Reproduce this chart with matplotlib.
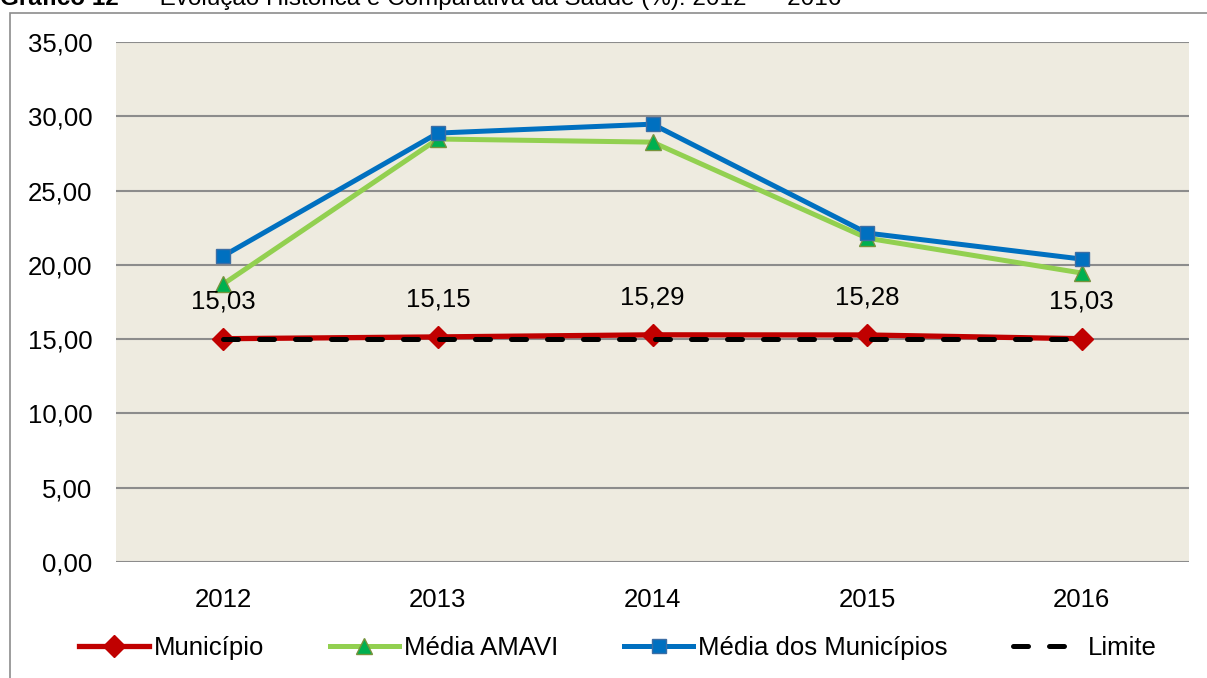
import matplotlib.pyplot as plt
from matplotlib.patches import Rectangle
from matplotlib.lines import Line2D

plt.rcParams['font.family'] = ['Liberation Sans', 'DejaVu Sans']

# Data
years = ["2012", "2013", "2014", "2015", "2016"]
municipio = [15.03, 15.15, 15.29, 15.28, 15.03]
media_amavi = [18.71, 28.47, 28.26, 21.80, 19.45]
media_municipios = [20.60, 28.87, 29.47, 22.14, 20.39]
limite = [15.00, 15.00, 15.00, 15.00, 15.00]
yticks = [0, 5, 10, 15, 20, 25, 30, 35]

W, H = 1207, 678
FS = 18.5
fig = plt.figure(figsize=(W / 100, H / 100), dpi=100)
fig.patch.set_facecolor('white')

# outer chart frame (partly outside the picture)
fig.patches.append(Rectangle((9.5 / W, -0.1), 1.2, (H - 12.5) / H + 0.1,
                             transform=fig.transFigure, fill=False,
                             edgecolor='#8c8c8c', linewidth=1.2))

# title, cut off at the top like in the source
t1 = fig.text(0, 1 - 5 / H, "Gráfico 12", fontsize=17.5, fontweight='bold',
              va='baseline', ha='left')
fig.canvas.draw()
bb = t1.get_window_extent()
fig.text(bb.x1 / W, 1 - 5 / H, "  –  Evolução Histórica e Comparativa da Saúde (%): 2012  –  2016",
         fontsize=17.5, va='baseline', ha='left')

ax = fig.add_axes([116 / W, 1 - 562 / H, (1189 - 116) / W, (562 - 42) / H])
ax.set_facecolor('#eeebe0')
x = list(range(len(years)))

dash = (0, (3, 4.2))
ax.plot(x, media_amavi, color='#92d050', linewidth=3.6, marker='^', markersize=11,
        markerfacecolor='#00b050', markeredgecolor='#77933c', markeredgewidth=1, zorder=3)
ax.plot(x, media_municipios, color='#0070c0', linewidth=3.6, marker='s', markersize=10,
        markerfacecolor='#0070c0', markeredgecolor='#3c6ea5', markeredgewidth=1, zorder=4)
ax.plot(x, municipio, color='#c00000', linewidth=3.8, marker='D', markersize=11,
        markerfacecolor='#c00000', markeredgecolor='#c00000', zorder=5)
ax.plot(x, limite, color='black', linewidth=3.6, linestyle=dash,
        dash_capstyle='round', zorder=6)

# data labels for Município
for xi, v in zip(x, municipio):
    ax.annotate(f"{v:.2f}".replace('.', ','), (xi, v), xytext=(0, 37),
                textcoords='offset pixels', ha='center', va='center', fontsize=FS)

ax.set_xlim(-0.5, len(years) - 0.5)
ax.set_ylim(0, 35)
ax.set_yticks(yticks)
ax.set_yticklabels([f"{t:.2f}".replace('.', ',') for t in yticks], fontsize=FS)
ax.set_xticks(x)
ax.set_xticklabels(years, fontsize=FS)
ax.tick_params(axis='y', length=0, pad=17)
ax.tick_params(axis='x', length=0, pad=19)
ax.yaxis.grid(True, color='#8c8c8c', linewidth=1.5)
ax.set_axisbelow(True)
for s in ax.spines.values():
    s.set_visible(False)

handles = [
    Line2D([], [], color='#c00000', linewidth=3.8, marker='D', markersize=11,
           markerfacecolor='#c00000', markeredgecolor='#c00000'),
    Line2D([], [], color='#92d050', linewidth=3.6, marker='^', markersize=11,
           markerfacecolor='#00b050', markeredgecolor='#77933c'),
    Line2D([], [], color='#0070c0', linewidth=3.6, marker='s', markersize=10,
           markerfacecolor='#0070c0', markeredgecolor='#3c6ea5'),
    Line2D([], [], color='black', linewidth=3.6, linestyle=dash,
           dash_capstyle='round'),
]
fig.legend(handles, ["Município", "Média AMAVI", "Média dos Municípios", "Limite"],
           loc='center', bbox_to_anchor=(618 / W, 1 - 648 / H), ncol=4, frameon=False,
           fontsize=FS, handlelength=2.7, handletextpad=0.2, columnspacing=2.55)

fig.savefig('out.png', dpi=100, facecolor='white')
